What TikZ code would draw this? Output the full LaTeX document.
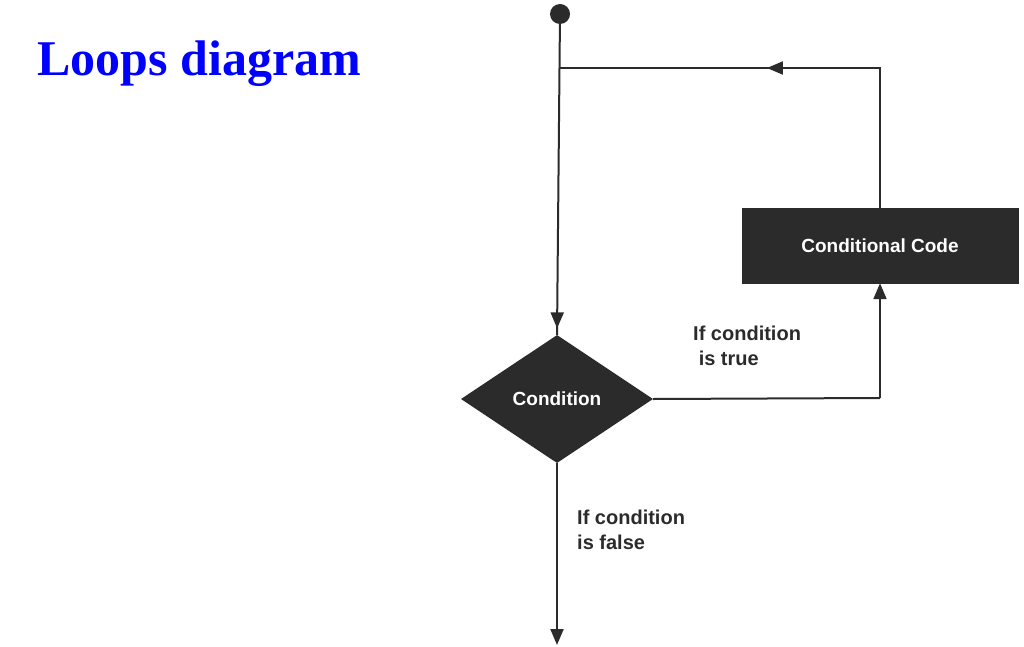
\documentclass[tikz,border=0pt]{standalone}
\usepackage{fontspec}
\setmainfont{Liberation Sans}
\newfontfamily\titlefont{Liberation Serif}
\usetikzlibrary{shapes.geometric,arrows.meta,decorations.markings}
\definecolor{ink}{HTML}{2B2B2B}
\begin{document}
\begin{tikzpicture}[x=1pt,y=-1pt,
  conn/.style={draw=ink,line width=2pt},
  tipmid/.style={postaction={decorate},decoration={markings,mark=at position #1 with {\arrow{Triangle[length=16pt,width=13pt]}}}},
  lbl/.style={font=\bfseries\fontsize{20}{25}\selectfont,align=left,anchor=north west,inner sep=0pt,text=ink},
  blk/.style={fill=ink,text=white,font=\bfseries\fontsize{19}{22}\selectfont}]
\useasboundingbox (0,0) rectangle (1024,647);
\node[anchor=west,text=blue,font=\titlefont\bfseries\fontsize{50}{55}\selectfont,inner sep=0pt] (title) at (37,64) {Loops diagram};
\fill[ink] (560,14) circle (10pt);
\coordinate (start) at (560,14);
\node[blk,draw=ink,minimum width=276pt,minimum height=75pt,inner sep=0pt] (code) at (880,245.5) {Conditional Code};
\node[blk,diamond,minimum width=192pt,minimum height=128pt,inner sep=0pt,aspect=1.5] (cond) at (557,399) {Condition};
\coordinate (top) at (880,68);
\coordinate (join) at (560,68);
\coordinate (rt) at (880,398);
\coordinate (endp) at (557,645);
\draw[conn,tipmid=0.98] (start) -- (cond.north);
\draw[conn,tipmid=0.55] (code.north) -- (top) -- (join);
\draw[conn] (cond.east) -- (rt);
\draw[conn,-{Triangle[length=16pt,width=13pt]}] (rt) -- (code.south);
\draw[conn,-{Triangle[length=16pt,width=13pt]}] (cond.south) -- (endp);
\node[lbl] (tl) at (693,326) {If condition\\\ is true};
\node[lbl] (fl) at (577,510) {If condition\\is false};
\end{tikzpicture}
\end{document}
